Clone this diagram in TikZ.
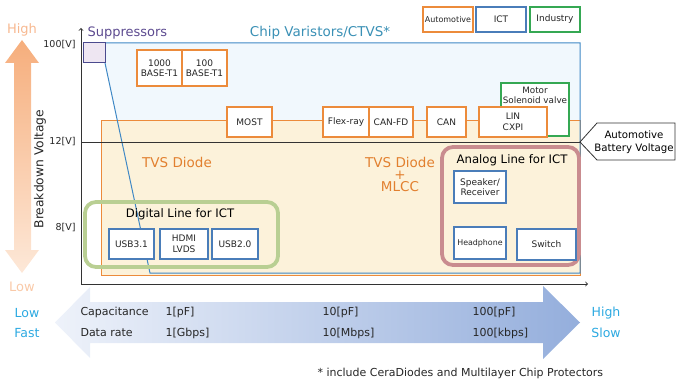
\documentclass[tikz,border=0pt]{standalone}
\usepackage{fontspec}
\setmainfont{DejaVu Sans}
\usetikzlibrary{calc,positioning}
\definecolor{autoc}{HTML}{EC8B3B}
\definecolor{tvsc}{HTML}{E2802F}
\definecolor{creamc}{HTML}{FCF2DA}
\definecolor{paleb}{HTML}{F1F8FD}
\definecolor{varc}{HTML}{3F88C5}
\definecolor{ictc}{HTML}{4A7DB9}
\definecolor{indc}{HTML}{35A853}
\definecolor{digic}{HTML}{B9CF93}
\definecolor{anac}{HTML}{C98C8F}
\definecolor{supc}{HTML}{4B4A8E}
\definecolor{supf}{HTML}{EEE6F2}
\definecolor{supt}{HTML}{5D4B90}
\definecolor{vart}{HTML}{3A90B5}
\definecolor{orhi}{HTML}{F6AE7C}
\definecolor{orlo}{HTML}{FDE8D8}
\definecolor{orht}{HTML}{F7B890}
\definecolor{orlt}{HTML}{F9C9A8}
\definecolor{arl}{HTML}{EEF2FA}
\definecolor{arr}{HTML}{94AEDC}
\definecolor{cyant}{HTML}{2CA9E1}
\definecolor{axc}{HTML}{333333}
\definecolor{txtc}{HTML}{262626}
\newcommand{\fsz}[1]{\fontsize{#1}{#1}\selectfont}
\tikzset{
  box/.style={draw=#1,fill=white,line width=1.1pt,inner sep=0pt,outer sep=0pt,align=center,text=txtc,font=\fontsize{9}{10.5}\selectfont},
  autobox/.style={box=autoc},
  ictbox/.style={box=ictc},
  indbox/.style={box=indc},
  grp/.style={draw=#1,line width=3.8pt,rounded corners=11pt,inner sep=0pt},
}
\begin{document}
\begin{tikzpicture}[x=1pt,y=-1pt]
\useasboundingbox (0,0) rectangle (680,390);
\shade[top color=orhi,bottom color=orlo] (22,40)--(39,63)--(31,63)--(31,250)--(39,250)--(22,273)--(5,250)--(14,250)--(14,63)--(5,63)--cycle;
\node[text=orht,font=\fsz{13}] (hi) at (22,30) {High};
\node[text=orlt,font=\fsz{13}] (lo) at (22,287) {Low};
\node[rotate=90,font=\fsz{12.3},text=txtc] (bdv) at (40,169) {Breakdown Voltage};
\fill[paleb] (105,43)--(580,43)--(580,273)--(150,273)--(105,63)--cycle;
\draw[autoc,fill=creamc,line width=.9pt] (101,120) rectangle (580,275);
\draw[varc,line width=1pt] (105,43)--(580,43)--(580,273)--(150,273)--(105,63);
\node[draw=supc,fill=supf,line width=1pt,minimum width=22,minimum height=20,inner sep=0pt] (sup) at (94,53) {};
\node[text=supt,font=\fsz{13},anchor=west] (supt) at (84,33) {Suppressors};
\node[text=vart,font=\fsz{13.5}] (vart) at (320,33) {Chip Varistors/CTVS*};
\coordinate (o) at (81,284);
\coordinate (ytop) at (81,28);
\coordinate (xend) at (588,284);
\draw[axc,<->,line width=.9pt] (ytop) |- (xend);
\foreach \v/\y in {100/45,12/142,8/228}
  \node[anchor=east,font=\fsz{9.5},text=txtc] (v\v) at (79,\y) {\v[V]};
\coordinate (tip) at (580,142);
\draw[axc,line width=.8pt] (o |- v12) -- (tip);
\draw[axc,fill=white,line width=.8pt] (tip)--(597,123)--(675,123)--(675,160)--(597,160)--cycle;
\node[font=\fontsize{10.2}{13}\selectfont,align=center,text=black] (batt) at (634,142) {Automotive\\Battery Voltage};
\node[text=tvsc,font=\fsz{13.5}] (tvs) at (177,162) {TVS Diode};
\node[text=tvsc,font=\fontsize{13.5}{12}\selectfont,align=center] (tvsm) at (400,174) {TVS Diode\\+\\MLCC};
\node[autobox,minimum width=45,minimum height=36] (b1000) at (159.5,68) {1000\\BASE-T1};
\node[autobox,minimum width=45,minimum height=36,right=0pt of b1000] (b100) {100\\BASE-T1};
\node[autobox,minimum width=45,minimum height=30] (most) at (249.5,122) {MOST};
\node[autobox,minimum width=46,minimum height=30] (flex) at (346,122) {Flex-ray};
\node[autobox,minimum width=44,minimum height=30,right=0pt of flex] (canfd) {CAN-FD};
\node[autobox,minimum width=39,minimum height=30] (can) at (446.5,122) {CAN};
\node[indbox,minimum width=68,minimum height=53] (motor) at (535,109.5) {};
\node[font=\fontsize{8.8}{10}\selectfont,text=txtc,align=center,below=1pt of motor.north] (motort) {Motor\\Solenoid valve};
\node[autobox,minimum width=68,minimum height=30] (lin) at (513,122) {LIN\\CXPI};
\node[autobox,font=\fsz{8},minimum width=50,minimum height=25] (lauto) at (448,19.5) {Automotive};
\node[ictbox,font=\fsz{9},minimum width=50,minimum height=25,right=3pt of lauto] (lict) {ICT};
\node[indbox,font=\fsz{9},minimum width=50,minimum height=25,right=4pt of lict] (lind) {Industry};
\node[grp=digic,minimum width=193,minimum height=65] (digi) at (181.5,234.5) {};
\node[font=\fsz{11.7},text=black] (digit) at (180,214) {Digital Line for ICT};
\node[ictbox,minimum width=45,minimum height=30] (usb31) at (131.5,244) {USB3.1};
\node[ictbox,minimum width=48,minimum height=30] (hdmi) at (184,244) {HDMI\\LVDS};
\node[ictbox,minimum width=46,minimum height=30] (usb20) at (235,244) {USB2.0};
\node[grp=anac,minimum width=137,minimum height=118] (ana) at (510.5,206) {};
\node[font=\fsz{11.7},text=black] (anat) at (512,160) {Analog Line for ICT};
\node[ictbox,minimum width=52,minimum height=32] (spk) at (480,187) {Speaker/\\Receiver};
\node[ictbox,font=\fsz{7.9},minimum width=52,minimum height=32] (hph) at (480,243) {Headphone};
\node[ictbox,minimum width=59,minimum height=31] (sw) at (546.5,244.5) {Switch};
\shade[left color=arl,right color=arr] (55,322.5)--(90,287)--(90,302)--(543,302)--(543,286)--(580,322.5)--(543,359)--(543,343)--(90,343)--(90,358)--cycle;
\node[anchor=west,font=\fsz{11},text=txtc] (cap) at (77,312) {Capacitance};
\node[anchor=west,font=\fsz{11},text=txtc] (rate) at (77,333) {Data rate};
\foreach \x/\c/\d [count=\i] in {162/1[pF]/1[Gbps],319/10[pF]/10[Mbps],469/100[pF]/100[kbps]}{
  \node[anchor=west,font=\fsz{11},text=txtc] (c\i) at (\x,312) {\c};
  \node[anchor=west,font=\fsz{11},text=txtc] (d\i) at (\x,333) {\d};
}
\node[text=cyant,font=\fsz{12.5}] (low) at (27,313) {Low};
\node[text=cyant,font=\fsz{12.5}] (fast) at (27,333) {Fast};
\node[text=cyant,font=\fsz{12.5}] (high) at (606,313) {High};
\node[text=cyant,font=\fsz{12.5}] (slow) at (606,333) {Slow};
\node[anchor=west,font=\fsz{11},text=txtc] (note) at (314,373) {* include CeraDiodes and Multilayer Chip Protectors};
\end{tikzpicture}
\end{document}
